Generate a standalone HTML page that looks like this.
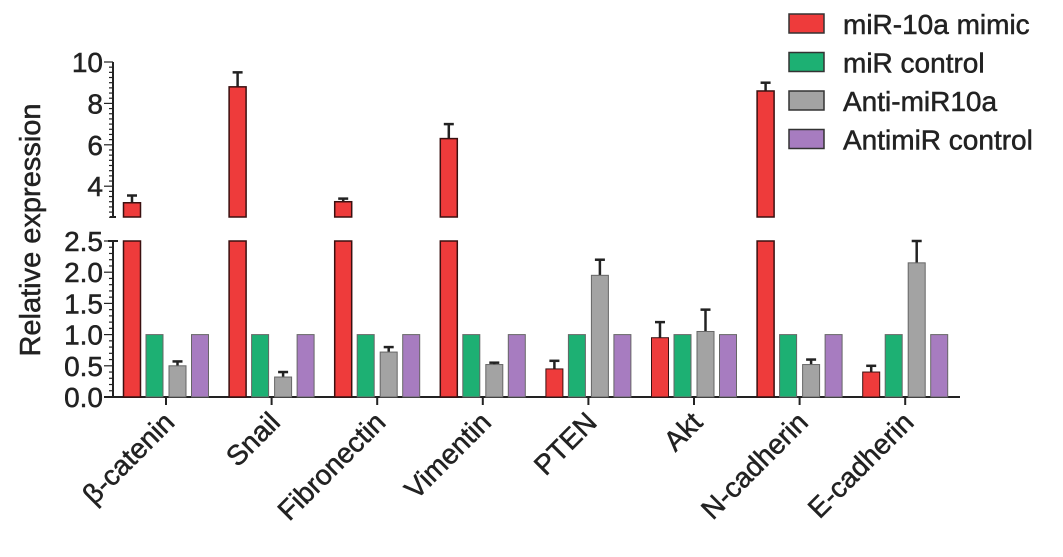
<!DOCTYPE html>
<html><head><meta charset="utf-8"><style>body{margin:0;background:#fff}svg{font-family:"Liberation Sans",sans-serif}svg text{stroke:#222;stroke-width:0.5}</style></head>
<body>
<svg id="c" width="1063" height="552"></svg>
<script>
const categories=["β-catenin","Snail","Fibronectin","Vimentin","PTEN","Akt","N-cadherin","E-cadherin"];
const seriesNames=["miR-10a mimic","miR control","Anti-miR10a","AntimiR control"];
const mimic=[3.2,8.8,3.25,6.3,0.45,0.95,8.6,0.4];
const mimicErr=[0.35,0.7,0.15,0.7,0.13,0.25,0.4,0.1];
const ctrl=[1,1,1,1,1,1,1,1];
const anti=[0.5,0.32,0.72,0.52,1.95,1.05,0.52,2.15];
const antiErr=[0.07,0.08,0.08,0.03,0.25,0.35,0.08,0.35];
const antiCtrl=[1,1,1,1,1,1,1,1];
const lowTicks=["0.0","0.5","1.0","1.5","2.0","2.5"];
const highTicks=["4","6","8","10"];
const colors=["#ee3b3b","#1db073","#a3a3a3","#a77cc0"];
const NS="http://www.w3.org/2000/svg",svg=document.getElementById('c');
function el(t,a,p){const e=document.createElementNS(NS,t);for(const k in a)e.setAttribute(k,a[k]);(p||svg).appendChild(e);return e;}
const yLow=v=>397-v*62.4, yHigh=v=>62+(10-v)*20.7;
const xC=i=>166+i*105.6, off=[-34,-11.5,11.5,34], bw=17;
function y(v){return v<=2.5?yLow(v):yHigh(v);}
let a=el('line',{x1:113,y1:241,x2:113,y2:397,stroke:'#222','stroke-width':2});
a=el('line',{x1:113,y1:62,x2:113,y2:217,stroke:'#222','stroke-width':2});
a=el('line',{x1:104,y1:397,x2:960,y2:397,stroke:'#222','stroke-width':2});
el('line',{x1:108,y1:241,x2:118,y2:241,stroke:'#222','stroke-width':2});
el('line',{x1:110,y1:217,x2:116,y2:217,stroke:'#222','stroke-width':2});
for(let v=0;v<=2.5001;v+=0.1){el('line',{x1:113,y1:yLow(v),x2:v*10%5<0.01||v*10%5>4.99?104:109,y2:yLow(v),stroke:'#222','stroke-width':1.2});}
for(let v=2.5;v<=10.001;v+=0.25){const maj=Math.abs(v%2)<0.01&&v>=4;el('line',{x1:113,y1:yHigh(v),x2:maj?104:109,y2:yHigh(v),stroke:'#222','stroke-width':1.2});}
lowTicks.forEach(t=>{const e=el('text',{x:103,y:yLow(+t)+10,'text-anchor':'end','font-size':28,fill:'#222'});e.textContent=t;});
highTicks.forEach(t=>{const e=el('text',{x:103,y:yHigh(+t)+10,'text-anchor':'end','font-size':28,fill:'#222'});e.textContent=t;});
let yt=el('text',{x:0,y:0,transform:'translate(40,230) rotate(-90)','text-anchor':'middle','font-size':29,fill:'#222'});yt.textContent='Relative expression';

const data=[mimic,ctrl,anti,antiCtrl],errs=[mimicErr,null,antiErr,null];
categories.forEach((c,i)=>{
 el('line',{x1:xC(i),y1:397,x2:xC(i),y2:405,stroke:'#222','stroke-width':2});
 const lb=el('text',{x:0,y:0,transform:`translate(${xC(i)+10},${424}) rotate(-45)`,'text-anchor':'end','font-size':28,fill:'#222'});lb.textContent=c;
 
 data.forEach((s,j)=>{
  const v=s[i],x=xC(i)+off[j]-bw/2,sw=j==0?'#3a1010':'#666';
  if(errs[j]){const top=y(v+errs[j][i]);el('line',{x1:x+bw/2,y1:y(v),x2:x+bw/2,y2:top,stroke:'#222','stroke-width':2.5});el('line',{x1:x+bw/2-5,y1:top,x2:x+bw/2+5,y2:top,stroke:'#222','stroke-width':2.5});}
  if(v>2.5){
   let r=el('rect',{x:x,y:yHigh(v),width:bw,height:217-yHigh(v),fill:colors[j],stroke:sw,'stroke-width':1.5});
   r=el('rect',{x:x,y:241,width:bw,height:156,fill:colors[j],stroke:sw,'stroke-width':1.5});
  }else{
   const r=el('rect',{x:x,y:yLow(v),width:bw,height:397-yLow(v),fill:colors[j],stroke:sw,'stroke-width':1});
  }
 });
});
seriesNames.forEach((n,j)=>{
 const yy=14+j*38.5;
 const g=el('g',{});
 el('rect',{x:789,y:yy,width:35,height:19,fill:colors[j],stroke:'#333','stroke-width':1.5},g);
 const t=el('text',{x:843,y:yy+20,'font-size':28,fill:'#222'},g);t.textContent=n;
});
</script>
</body></html>
